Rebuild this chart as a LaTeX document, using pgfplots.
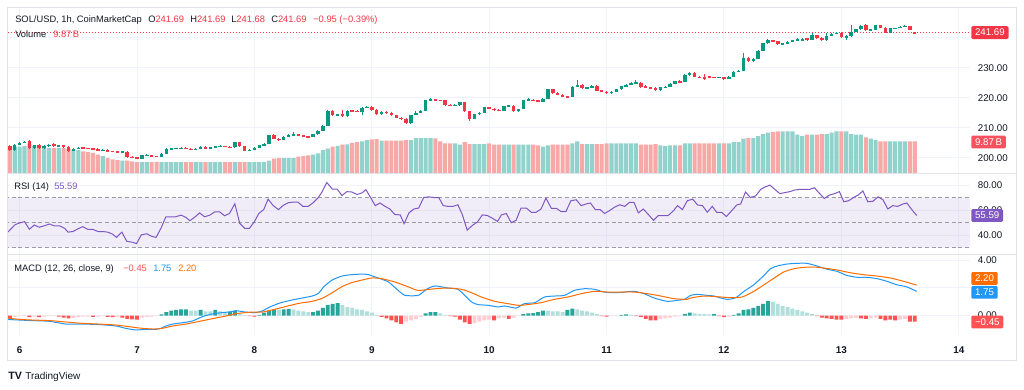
\documentclass[border=0pt]{standalone}
\usepackage{pgfplots}
\pgfplotsset{compat=1.18}
\usepackage{pgfplotstable}
\usepackage{fontspec}
\setmainfont{Liberation Sans}
\definecolor{tvup}{HTML}{089981}
\definecolor{tvdn}{HTML}{F23645}
\definecolor{volup}{HTML}{92D2CC}
\definecolor{voldn}{HTML}{F7A9A7}
\definecolor{gridc}{HTML}{F0F3FA}
\definecolor{txt}{HTML}{131722}
\definecolor{rsic}{HTML}{7E57C2}
\definecolor{macdc}{HTML}{2196F3}
\definecolor{sigc}{HTML}{FF6D00}
\definecolor{hdg}{HTML}{26A69A}
\definecolor{hlg}{HTML}{B2DFDB}
\definecolor{hdr}{HTML}{FF5252}
\definecolor{hlr}{HTML}{FFCDD2}
\definecolor{framec}{HTML}{E0E3EB}
\definecolor{dashc}{HTML}{787B86}
\definecolor{volbox}{HTML}{F7525F}

\pgfplotstableread{
t o h l c v
-2 203.9 204.2 202.3 202.6 7.32
-1 202.6 204.7 202.4 204.4 8.18
0 204.4 205.4 204.2 205.0 8.18
1 205.0 205.7 204.8 205.3 8.37
2 205.5 205.9 203.0 203.2 9.01
3 203.2 204.4 203.0 204.1 8.37
4 204.3 204.5 203.0 203.2 8.60
5 203.2 204.1 203.0 203.9 8.18
6 203.9 204.7 203.7 204.4 7.74
7 204.5 204.8 203.7 203.9 7.74
8 204.0 204.4 203.8 204.1 7.74
9 204.1 204.3 203.4 203.6 7.74
10 203.7 203.9 202.0 202.3 7.48
11 202.3 203.2 202.1 203.0 7.32
12 203.0 203.6 202.9 203.4 7.10
13 203.4 203.6 203.0 203.2 6.69
14 203.2 203.4 202.8 203.0 6.46
15 203.0 203.2 202.7 202.9 6.21
16 202.9 203.1 202.4 202.5 5.64
17 202.5 202.8 202.3 202.6 5.19
18 202.6 202.8 202.0 202.2 4.55
19 202.2 202.4 201.8 202.0 4.14
20 202.0 202.2 201.6 201.8 3.92
21 201.8 202.2 201.6 202.0 3.73
22 202.0 202.2 200.0 200.2 3.73
23 200.2 200.5 199.9 200.1 3.50
24 200.1 200.3 199.5 199.7 3.28
25 199.7 201.0 199.6 200.8 3.28
26 200.8 201.2 200.6 200.9 3.26
27 200.9 201.0 200.3 200.5 3.28
28 200.5 200.7 200.2 200.4 3.30
29 200.4 201.5 200.3 201.3 3.28
30 201.3 203.2 201.1 203.0 3.28
31 203.0 203.4 202.9 203.1 3.26
32 203.1 203.3 202.9 203.1 3.28
33 203.1 203.5 203.0 203.3 3.28
34 203.3 203.5 202.8 202.9 3.28
35 202.9 203.1 202.5 202.7 3.28
36 202.7 203.2 202.6 203.0 3.28
37 203.0 203.8 202.9 203.6 3.28
38 203.6 203.8 203.0 203.2 3.28
39 203.2 203.5 203.1 203.3 3.28
40 203.3 204.0 203.2 203.8 3.28
41 203.8 204.1 203.7 203.9 3.28
42 203.9 204.0 203.5 203.6 3.28
43 203.6 203.8 203.3 203.5 3.28
44 203.5 205.3 203.4 205.1 3.28
45 205.1 205.3 203.6 203.8 3.28
46 203.8 204.0 202.2 202.4 3.28
47 202.4 202.9 202.2 202.6 3.28
48 202.6 203.5 202.5 203.3 3.28
49 203.3 204.3 203.2 204.1 3.28
50 204.1 204.9 204.0 204.7 3.28
51 204.7 207.7 204.6 207.5 3.73
52 207.5 207.8 206.2 206.4 4.36
53 206.4 206.6 205.7 205.9 4.55
54 205.9 207.2 205.8 207.0 4.55
55 207.0 207.8 206.9 207.6 4.55
56 207.6 208.5 207.5 207.7 4.55
57 207.7 207.9 207.3 207.5 5.00
58 207.5 207.7 206.9 207.1 5.19
59 207.1 207.3 206.7 206.9 5.41
60 206.9 208.0 206.8 207.8 5.64
61 207.8 209.1 207.7 208.9 6.05
62 208.9 210.9 208.8 210.7 7.10
63 210.7 215.9 210.6 215.7 7.55
64 215.7 215.9 214.0 214.2 8.18
65 214.2 214.7 214.0 214.4 8.44
66 214.6 215.8 213.6 213.8 8.82
67 213.8 215.9 213.7 215.7 8.92
68 215.7 215.9 215.4 215.6 9.39
69 215.6 215.8 215.2 215.4 9.65
70 215.4 216.9 214.4 216.7 9.87
71 216.7 217.3 216.5 217.0 10.28
72 217.0 217.2 215.7 215.9 10.51
73 215.9 216.1 214.3 214.5 10.60
74 214.5 215.5 214.3 215.3 10.09
75 215.3 215.5 214.7 214.9 10.09
76 214.9 215.1 214.0 214.2 10.09
77 214.2 214.4 213.1 213.3 10.09
78 213.3 213.5 212.7 212.9 10.09
79 212.9 213.1 211.2 211.5 10.28
80 211.5 214.4 211.3 214.2 10.28
81 214.2 215.6 214.1 215.0 10.92
82 215.0 216.0 214.9 215.7 10.92
83 215.7 219.4 215.6 219.2 10.92
84 219.2 219.8 219.0 219.3 10.92
85 219.3 219.5 219.0 219.2 10.83
86 219.2 219.4 218.9 219.1 9.87
87 219.1 219.3 217.4 217.6 9.23
88 217.6 217.8 217.3 217.5 9.23
89 217.5 217.8 217.3 217.6 9.23
90 217.5 218.7 217.3 218.5 8.82
91 218.5 218.7 215.3 215.5 9.65
92 215.5 215.7 212.3 213.0 9.01
93 213.0 214.7 212.8 214.5 9.01
94 214.5 215.2 214.3 215.0 9.01
95 215.0 217.0 214.9 216.8 9.01
96 216.8 217.0 216.2 216.4 9.23
97 216.4 216.6 215.6 215.8 8.82
98 215.9 216.1 215.5 215.7 8.82
99 215.7 217.4 215.6 217.2 8.82
100 217.2 217.6 217.0 217.3 8.82
101 217.3 217.5 215.4 215.6 8.82
102 215.6 216.4 215.4 216.2 8.82
103 216.2 219.4 216.1 219.2 8.82
104 219.2 219.8 219.0 219.3 8.82
105 219.3 219.5 218.8 219.0 8.82
106 219.2 219.4 218.5 218.7 8.60
107 218.7 219.8 218.6 219.6 8.18
108 219.6 223.0 219.5 222.8 8.60
109 222.8 223.0 221.4 221.6 8.82
110 221.6 221.8 220.8 221.0 8.82
111 221.0 221.2 220.1 220.3 8.82
112 220.3 220.5 220.0 220.2 8.82
113 220.2 223.8 220.1 223.6 9.23
114 223.6 226.0 223.5 224.3 9.87
115 224.3 224.5 223.0 223.2 9.01
116 223.2 223.7 223.0 223.4 9.01
117 223.4 224.2 223.3 224.0 9.01
118 224.0 224.2 222.2 222.4 9.01
119 222.5 222.7 221.8 222.0 9.01
120 222.0 222.2 221.3 221.5 9.23
121 221.5 222.2 221.4 222.0 9.23
122 222.0 223.0 221.9 222.8 9.23
123 222.8 224.0 222.7 223.8 9.23
124 223.8 224.5 223.7 224.3 9.23
125 224.3 225.1 224.2 224.9 9.23
126 224.9 225.8 224.8 225.0 9.23
127 225.0 225.2 223.4 223.6 8.82
128 223.9 224.1 223.3 223.5 8.82
129 223.5 223.7 223.1 223.3 8.82
130 223.3 223.5 222.3 222.5 9.01
131 222.5 223.7 222.4 223.5 8.60
132 223.5 223.9 223.3 223.6 8.37
133 223.6 224.8 223.5 224.6 8.60
134 224.6 225.7 224.5 225.5 8.60
135 225.5 225.9 225.0 225.2 8.60
136 225.2 227.8 225.1 227.6 9.23
137 227.6 228.6 227.4 228.3 9.23
138 228.3 228.5 226.8 227.0 9.23
139 227.0 227.3 226.5 226.7 9.23
140 226.9 227.9 226.0 226.2 9.23
141 227.2 227.4 226.6 226.8 9.23
142 226.8 227.0 226.5 226.7 9.23
143 226.7 227.0 226.6 226.8 9.23
144 226.8 227.0 226.0 226.2 9.23
145 226.2 227.2 226.1 227.0 9.23
146 227.0 228.8 226.9 228.6 9.65
147 228.6 229.3 228.5 229.0 9.65
148 229.0 235.0 228.9 233.4 10.73
149 233.4 233.6 232.0 232.2 10.92
150 232.2 233.3 232.0 233.0 10.92
151 233.0 235.9 232.9 235.7 11.56
152 235.7 238.3 235.6 238.1 12.19
153 238.1 239.7 238.0 239.2 12.64
154 239.2 239.4 238.6 238.8 12.83
155 238.8 239.0 237.6 237.8 13.05
156 237.8 238.2 237.6 238.0 13.05
157 238.0 238.8 237.9 238.6 13.05
158 238.6 239.4 238.5 239.2 13.05
159 239.2 239.8 239.0 239.4 12.00
160 239.4 240.0 238.9 239.4 11.56
161 239.8 240.0 238.9 239.2 12.00
162 239.2 241.6 239.1 240.8 12.00
163 240.8 241.0 239.6 239.8 12.00
164 239.9 240.1 238.9 239.1 12.19
165 239.1 241.6 239.0 240.6 12.19
166 240.6 241.6 240.5 241.4 12.64
167 241.4 242.0 241.3 241.7 13.05
168 241.7 241.9 239.9 240.1 13.05
169 240.1 240.8 239.2 240.6 13.05
170 240.6 244.3 240.4 241.9 12.19
171 241.9 243.0 241.8 242.8 12.00
172 242.8 244.1 242.7 243.9 12.00
173 244.3 244.6 242.4 242.6 11.14
174 242.6 243.0 242.4 242.7 10.73
175 242.7 244.3 242.6 244.1 10.28
176 244.1 244.3 243.2 243.4 9.87
177 243.4 243.6 241.5 241.7 9.87
178 241.7 243.4 241.6 243.2 9.87
179 243.2 243.4 243.0 243.2 9.87
180 243.2 243.9 243.1 243.7 9.87
181 243.7 244.1 243.6 243.9 9.87
182 243.9 244.0 242.5 242.64 9.87
183 241.70 241.70 241.68 241.69 9.87
}\candles

\pgfplotstableread{
t h k
-2 -0.20 2
-1 -0.10 3
0 -0.05 3
1 -0.05 3
2 -0.12 2
3 -0.08 3
4 -0.12 2
5 -0.08 3
6 -0.05 3
7 -0.05 3
8 -0.08 2
9 -0.15 2
10 -0.20 2
11 -0.18 3
12 -0.12 3
13 -0.08 3
14 -0.08 3
15 -0.10 2
16 -0.08 3
17 -0.05 3
18 -0.10 2
19 -0.12 2
20 -0.10 3
21 -0.15 2
22 -0.25 2
23 -0.28 2
24 -0.30 2
25 -0.15 3
26 -0.10 3
27 -0.08 3
28 -0.05 3
29 0.08 0
30 0.25 0
31 0.35 0
32 0.40 0
33 0.45 0
34 0.45 0
35 0.35 1
36 0.35 1
37 0.40 0
38 0.30 1
39 0.30 1
40 0.40 0
41 0.30 1
42 0.25 1
43 0.28 0
44 0.35 0
45 0.15 1
46 0.05 1
47 -0.05 2
48 -0.08 2
49 0.05 0
50 0.20 0
51 0.35 0
52 0.45 0
53 0.42 1
54 0.45 0
55 0.48 0
56 0.45 1
57 0.35 1
58 0.30 1
59 0.25 1
60 0.25 0
61 0.35 0
62 0.55 0
63 0.75 0
64 0.85 0
65 0.90 0
66 0.75 1
67 0.60 1
68 0.55 1
69 0.45 1
70 0.40 1
71 0.30 1
72 0.20 1
73 0.05 1
74 -0.10 2
75 -0.20 2
76 -0.35 2
77 -0.50 2
78 -0.60 2
79 -0.45 3
80 -0.35 3
81 -0.25 3
82 -0.10 3
83 0.15 0
84 0.25 0
85 0.25 0
86 0.15 1
87 0.05 1
88 -0.05 2
89 -0.08 2
90 -0.30 2
91 -0.50 2
92 -0.60 2
93 -0.55 3
94 -0.45 3
95 -0.35 3
96 -0.30 3
97 -0.35 2
98 -0.20 3
99 -0.15 3
100 -0.25 2
101 -0.15 3
102 -0.05 3
103 0.10 0
104 0.15 0
105 0.18 0
106 0.25 0
107 0.35 0
108 0.35 1
109 0.30 1
110 0.30 1
111 0.25 1
112 0.40 0
113 0.50 0
114 0.45 1
115 0.35 1
116 0.30 1
117 0.20 1
118 0.10 1
119 -0.05 2
120 -0.08 2
121 -0.05 3
122 -0.03 3
123 0.05 0
124 0.08 0
125 0.06 1
126 -0.05 2
127 -0.10 2
128 -0.25 2
129 -0.35 2
130 -0.35 2
131 -0.25 3
132 -0.20 3
133 -0.15 3
134 -0.08 3
135 -0.05 3
136 0.10 0
137 0.20 0
138 0.15 1
139 0.12 1
140 0.10 1
141 0.08 1
142 0.10 0
143 -0.05 2
144 -0.12 2
145 -0.08 3
146 0.05 0
147 0.15 0
148 0.40 0
149 0.45 0
150 0.55 0
151 0.70 0
152 0.85 0
153 1.05 0
154 1.00 1
155 0.85 1
156 0.70 1
157 0.60 1
158 0.50 1
159 0.40 1
160 0.30 1
161 0.20 1
162 0.10 1
163 -0.05 2
164 -0.15 2
165 -0.20 2
166 -0.25 2
167 -0.30 2
168 -0.30 2
169 -0.25 3
170 -0.20 3
171 -0.18 3
172 -0.20 2
173 -0.25 2
174 -0.20 3
175 -0.15 3
176 -0.25 2
177 -0.35 2
178 -0.30 2
179 -0.35 2
180 -0.30 3
181 -0.25 3
182 -0.45 2
183 -0.45 2
}\hist

\pgfplotsset{tvpane/.style={
  scale only axis, width=722.25pt, xmin=-2.58, xmax=194.3,
  anchor=north west,
  axis line style={draw=none}, major tick length=0pt,
  xtick={0,24,...,192}, xticklabels={},
  grid=major, grid style={draw=gridc, line width=0.75pt},
  yticklabel pos=right,
  yticklabel style={font=\fontsize{7.3}{8}\selectfont, text=txt, xshift=2.4pt},
  yticklabel={\pgfmathprintnumber[fixed,fixed zerofill,precision=2,assume math mode=true]{\tick}},
  extra y tick style={grid=major, yticklabel={}},
}}

\begin{document}
\begin{tikzpicture}
\fill[white] (0,0) rectangle (768pt,-291.75pt);
\path[use as bounding box] (0,0) rectangle (768pt,-291.75pt);

% ---------- price + volume ----------
\begin{axis}[tvpane, at={(5.25pt,-5.25pt)}, height=124.5pt,
  ymin=194.9, ymax=250.233, ytick={200,210,220,230}, extra y ticks={240}]
\addplot[ybar, bar width=0.84, draw=none, fill=volup,
  restrict expr to domain={\thisrow{c}-\thisrow{o}}{0:1000}]
  table[x=t, y expr={195.13+1.0469*\thisrow{v}}] {\candles};
\addplot[ybar, bar width=0.84, draw=none, fill=voldn,
  restrict expr to domain={\thisrow{c}-\thisrow{o}}{-1000:-0.00001}]
  table[x=t, y expr={195.13+1.0469*\thisrow{v}}] {\candles};
\addplot[tvdn, line width=0.75pt, dash pattern=on 0.75pt off 1.5pt] coordinates {(-3,241.69) (195,241.69)};
% wicks
\addplot[draw=none, mark=none,
  restrict expr to domain={\thisrow{c}-\thisrow{o}}{0:1000},
  error bars/.cd, y dir=both, y explicit, error mark=none,
  error bar style={draw=tvup, line width=0.75pt}]
  table[x=t, y expr={(\thisrow{h}+\thisrow{l})/2}, y error expr={(\thisrow{h}-\thisrow{l})/2}] {\candles};
\addplot[draw=none, mark=none,
  restrict expr to domain={\thisrow{c}-\thisrow{o}}{-1000:-0.00001},
  error bars/.cd, y dir=both, y explicit, error mark=none,
  error bar style={draw=tvdn, line width=0.75pt}]
  table[x=t, y expr={(\thisrow{h}+\thisrow{l})/2}, y error expr={(\thisrow{h}-\thisrow{l})/2}] {\candles};
% bodies
\addplot[draw=none, mark=none,
  restrict expr to domain={\thisrow{c}-\thisrow{o}}{0:1000},
  error bars/.cd, y dir=both, y explicit, error mark=none,
  error bar style={draw=tvup, line width=2.6pt}]
  table[x=t, y expr={(\thisrow{o}+\thisrow{c})/2}, y error expr={max(abs(\thisrow{c}-\thisrow{o})/2,0.17)}] {\candles};
\addplot[draw=none, mark=none,
  restrict expr to domain={\thisrow{c}-\thisrow{o}}{-1000:-0.00001},
  error bars/.cd, y dir=both, y explicit, error mark=none,
  error bar style={draw=tvdn, line width=2.6pt}]
  table[x=t, y expr={(\thisrow{o}+\thisrow{c})/2}, y error expr={max(abs(\thisrow{c}-\thisrow{o})/2,0.17)}] {\candles};
\end{axis}

% ---------- RSI ----------
\begin{axis}[tvpane, at={(5.25pt,-130.5pt)}, height=60pt,
  ymin=24.8, ymax=88.8, ytick={40,60,80}]
\addplot[draw=none, fill=rsic, fill opacity=0.1] coordinates {(-3,30) (195,30) (195,70) (-3,70) (-3,30)};
\addplot[dashc!75, line width=0.75pt, dash pattern=on 3pt off 2pt] coordinates {(-3,70) (195,70)};
\addplot[dashc!75, line width=0.75pt, dash pattern=on 3pt off 2pt] coordinates {(-3,50) (195,50)};
\addplot[dashc!75, line width=0.75pt, dash pattern=on 3pt off 2pt] coordinates {(-3,30) (195,30)};
\addplot[rsic, line width=0.75pt] table {
t r
-2.4 42.3
-1.0 48
-0.3 49.3
1.0 50.7
2.0 44.6
3.0 48
4.0 46.2
5.0 47.3
6.1 48.8
7.1 47.3
8.2 47.3
9.2 45.4
9.9 42.3
10.9 42.8
11.9 44.9
12.9 46.7
13.9 44.6
14.9 44.6
16.0 42.8
17.0 42.8
18.0 42.3
19.0 40.7
19.8 38.1
20.9 42.3
21.9 35
23.1 34.2
23.9 33.1
24.9 40.2
26.0 41
27.0 38.9
27.9 38.1
28.9 45.4
29.9 54.6
30.9 54.6
31.9 54.6
33.0 55.9
34.0 54.1
34.8 51.4
35.9 54.6
36.8 57.7
37.8 54.6
38.9 55.9
39.9 58.5
40.9 58.5
41.9 55.4
42.9 57.2
44.0 65
45.0 49.3
46.0 45.4
47.0 45.4
48.0 50.7
48.9 57.2
49.9 60.3
50.8 68.7
51.8 63.7
52.9 60.3
53.9 63.7
54.9 65.8
55.9 66.3
56.9 66.3
57.9 62.9
59.0 62.9
60.0 65.8
61.0 69.7
61.8 74.2
62.8 82
63.9 76.8
64.9 76.8
65.9 71.6
66.9 74.7
67.9 74.4
69.0 72.4
70.0 73.7
70.8 76.3
71.7 70.3
72.7 63.5
73.7 65.6
74.7 62.9
75.7 60.8
76.7 56.4
77.8 56.1
78.6 49.1
79.6 57.7
80.6 60.8
81.6 61.6
82.6 70
83.7 70.5
84.7 70
85.7 70
86.6 63.5
87.6 62.9
88.6 62.9
89.6 64.2
90.5 56.4
91.5 43.9
92.6 47.8
93.6 50.4
94.6 56.1
95.6 55.6
96.6 53.5
97.7 50.9
98.5 56.1
99.5 57.2
100.5 49.9
101.5 51.7
102.5 61.6
103.6 61.6
104.6 58.2
105.6 58.2
106.6 60.8
107.6 69.5
108.7 61.4
109.7 61.4
110.7 58.8
111.7 58.8
112.7 67.4
113.8 68.2
114.8 63.5
115.8 64.8
116.7 65.6
117.7 60.3
118.7 60.3
119.6 57.2
120.6 59.5
121.6 62.2
122.7 64.2
123.7 62.9
124.7 66.1
125.6 66.1
126.5 57.7
127.5 60.8
128.6 56.1
129.6 51.7
130.6 55.6
131.6 55.6
132.6 55.6
133.7 59.5
134.5 63.5
135.5 60.3
136.5 67.4
137.6 68.7
138.6 64
139.6 63.5
140.6 58.2
141.6 62.9
142.5 58.2
143.5 58.2
144.5 54.8
145.6 59.5
146.6 64
147.4 64.8
148.4 74.4
149.4 70
150.5 71.3
151.5 76.5
152.5 78.6
153.4 79.9
154.4 76.5
155.4 73.1
156.4 73.9
157.5 74.7
158.5 76
159.5 76.5
160.5 76.5
161.5 76.5
162.5 77.8
163.5 73.4
164.5 69.2
165.5 71.8
166.6 73.1
167.6 74.7
168.5 66.6
169.5 67.4
170.5 70
171.5 72.1
172.4 75.2
173.4 66.6
174.4 66.9
175.5 70.5
176.5 68.2
177.5 60.8
178.5 63.5
179.5 62.9
180.6 64.8
181.4 65.6
182.4 60.3
183.4 55.59
};
\end{axis}

% ---------- MACD ----------
\begin{axis}[tvpane, at={(5.25pt,-191.25pt)}, height=60pt,
  ymin=-1.413, ymax=4.384, ytick={0,4}, extra y ticks={2},
  xticklabels={6,7,8,9,10,11,12,13,14},
  xticklabel style={font=\bfseries\fontsize{7.4}{8}\selectfont, text=txt, yshift=-5pt}]
\addplot[ybar, bar width=0.8, draw=none, fill=hdg, restrict expr to domain={\thisrow{k}}{-0.5:0.5}] table[x=t,y=h] {\hist};
\addplot[ybar, bar width=0.8, draw=none, fill=hlg, restrict expr to domain={\thisrow{k}}{0.5:1.5}] table[x=t,y=h] {\hist};
\addplot[ybar, bar width=0.8, draw=none, fill=hdr, restrict expr to domain={\thisrow{k}}{1.5:2.5}] table[x=t,y=h] {\hist};
\addplot[ybar, bar width=0.8, draw=none, fill=hlr, restrict expr to domain={\thisrow{k}}{2.5:3.5}] table[x=t,y=h] {\hist};
\addplot[macdc, line width=0.75pt, smooth, tension=0.4] table {
t m
-2.7 -0.28
0 -0.33
2.7 -0.37
6.1 -0.42
9.5 -0.62
12.9 -0.62
16.3 -0.66
19.7 -0.76
21.7 -0.93
23.8 -1.05
25.8 -1.0
27.9 -1.0
28.9 -0.93
29.9 -0.76
31.3 -0.62
33.3 -0.52
35.3 -0.40
37.4 -0.08
39.4 0.11
41.4 0.21
43.5 0.28
44.2 0.35
46.2 0.25
48.2 0.21
49.6 0.33
51.0 0.59
53.0 0.88
55.0 1.07
57.1 1.22
59.8 1.41
61.1 1.61
62.2 2.09
63.9 2.57
65.9 2.86
67.9 2.96
70.0 3.0
71.3 2.96
73.3 2.72
75.4 2.43
77.4 1.82
78.8 1.46
81.5 1.46
83.2 1.9
84.9 2.14
87.6 1.99
89.6 1.9
91.0 1.46
92.4 0.98
93.7 0.79
95.8 0.74
97.8 0.62
99.2 0.69
101.5 0.54
103.2 0.86
105.3 0.93
107.3 1.34
109.3 1.41
111.4 1.46
113.4 1.82
115.5 1.94
117.5 1.9
119.5 1.7
121.6 1.65
123.6 1.7
125.6 1.75
127.7 1.58
129.7 1.27
132.4 1.03
134.5 1.1
135.9 1.17
137.2 1.46
138.6 1.53
140.6 1.46
142.0 1.41
143.3 1.27
144.7 1.17
146.4 1.29
148.1 1.75
150.1 2.23
152.2 2.91
153.5 3.39
154.9 3.59
156.9 3.73
158.9 3.78
160.9 3.78
163.0 3.59
165.1 3.35
167.1 3.2
169.1 2.91
171.2 2.77
173.2 2.77
175.3 2.67
177.3 2.48
179.3 2.23
181.4 2.07
183.4 1.75
};
\addplot[sigc, line width=0.75pt, smooth, tension=0.4] table {
t s
-2.7 -0.18
0 -0.28
2.7 -0.33
6.1 -0.37
9.5 -0.47
12.9 -0.57
16.3 -0.62
19.7 -0.69
22.4 -0.81
24.5 -0.91
27.2 -0.98
28.9 -0.95
31.3 -0.76
34.0 -0.62
36.7 -0.43
39.4 -0.23
42.1 -0.04
44.8 0.16
47.6 0.25
49.6 0.25
51.6 0.40
54.3 0.64
57.1 0.88
59.8 1.03
61.8 1.24
63.9 1.65
65.9 2.09
67.9 2.38
70.0 2.57
72.0 2.72
74.0 2.67
76.7 2.43
79.5 2.07
81.5 1.82
84.9 1.94
87.6 1.99
90.3 1.9
92.4 1.65
94.4 1.34
97.1 1.03
99.8 0.86
101.9 0.74
103.9 0.79
106.6 0.93
109.3 1.17
112.1 1.34
114.8 1.58
117.5 1.75
120.2 1.7
122.9 1.7
125.6 1.7
128.4 1.58
131.1 1.41
133.8 1.22
136.5 1.17
137.2 1.27
139.9 1.41
142.7 1.36
145.4 1.29
147.7 1.34
150.1 1.75
152.2 2.23
154.2 2.7
156.2 3.15
158.3 3.39
160.3 3.49
162.4 3.51
164.4 3.44
167.1 3.3
169.8 3.1
172.5 2.96
175.3 2.86
178.0 2.72
180.7 2.48
183.4 2.20
};
\end{axis}

% ---------- frame, labels ----------
\begin{scope}[x=0.75pt,y=-0.75pt]
\draw[framec, line width=0.75pt] (7,7) rectangle (1016,360);
\draw[framec, line width=1pt] (7,173.5) -- (1016,173.5);
\draw[framec, line width=1.2pt] (7,254.5) -- (1016,254.5);
\tikzset{hd/.style={anchor=base west, inner sep=0pt, font=\fontsize{7}{8}\selectfont, text=txt},
  pbox/.style={anchor=west, text=white, font=\fontsize{7.3}{8}\selectfont, inner xsep=2.8pt, inner ysep=0pt, minimum height=9.6pt, rounded corners=1pt}}
\node[hd] at (15,22.4) {SOL/USD, 1h, CoinMarketCap};
\node[hd] at (148,22.4) {O\textcolor{tvdn}{241.69}};
\node[hd] at (190,22.4) {H\textcolor{tvdn}{241.69}};
\node[hd] at (231,22.4) {L\textcolor{tvdn}{241.68}};
\node[hd] at (271,22.4) {C\textcolor{tvdn}{241.69}};
\node[hd, text=tvdn] at (313,22.4) {−0.95 (−0.39\%)};
\node[hd] at (15,37.4) {Volume};
\node[hd, text=tvdn] at (53,37.4) {9.87\,B};
\node[hd] at (14,189.2) {RSI (14)};
\node[hd, text=rsic] at (54,189.2) {55.59};
\node[hd] at (14,271.4) {MACD (12, 26, close, 9)};
\node[hd, text=hdr] at (123,271.4) {−0.45};
\node[hd, text=macdc] at (153,271.4) {1.75};
\node[hd, text=sigc] at (178,271.4) {2.20};
\node[pbox, fill=tvdn] at (971,32.6) {241.69};
\node[pbox, fill=volbox] at (971,142) {9.87\,B};
\node[pbox, fill=rsic] at (971,215.5) {55.59};
\node[pbox, fill=sigc] at (971,278.5) {2.20};
\node[pbox, fill=macdc] at (971,292.3) {1.75};
\node[pbox, fill=hdr] at (971,322) {−0.45};
\node[anchor=base west, inner sep=0pt, font=\bfseries\fontsize{8}{9}\selectfont, text=txt] at (8,379.5) {TV};
\node[anchor=base west, inner sep=0pt, font=\fontsize{7.5}{9}\selectfont, text=txt] at (25,379.5) {TradingView};
\end{scope}
\end{tikzpicture}
\end{document}
